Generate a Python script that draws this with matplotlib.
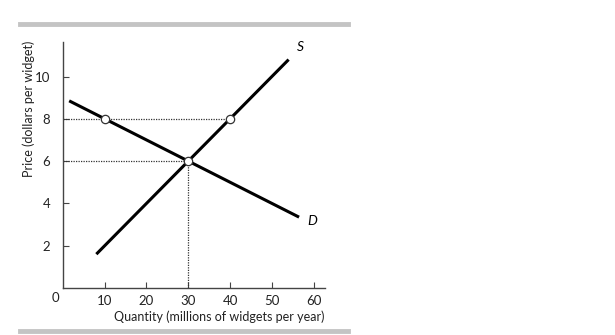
import matplotlib.pyplot as plt
from matplotlib.lines import Line2D

# supply and demand curves (quantity, price)
supply_q = [8, 54]
supply_p = [1.6, 10.8]
demand_q = [1.5, 56.5]
demand_p = [8.85, 3.35]

# highlighted points
points_q = [10, 40, 30]
points_p = [8, 8, 6]

xticks = [10, 20, 30, 40, 50, 60]
yticks = [2, 4, 6, 8, 10]

plt.rcParams['font.family'] = ['Lato', 'DejaVu Sans']

fig = plt.figure(figsize=(6.15, 3.35), dpi=100)
W, H = 615, 335
x0, x1 = 62.9, 325
y0, y1 = 288, 41.7
ax = fig.add_axes([x0 / W, 1 - y0 / H, (x1 - x0) / W, (y0 - y1) / H])

ax.set_xlim(0, (x1 - x0) / 4.18)
ax.set_ylim(0, (y0 - y1) / 21.15)

# dotted guides
ax.plot([0, 40], [8, 8], color='#333333', lw=0.9, ls=(0, (1, 1)))
ax.plot([0, 30], [6, 6], color='#333333', lw=0.9, ls=(0, (1, 1)))
ax.plot([30, 30], [0, 6], color='#333333', lw=0.9, ls=(0, (1, 1)))

ax.plot(supply_q, supply_p, color='black', lw=2.2, solid_capstyle='butt')
ax.plot(demand_q, demand_p, color='black', lw=2.2, solid_capstyle='butt')
ax.plot(points_q, points_p, 'o', ms=6, mfc='white', mec='#333333', mew=0.9)

ax.text(55.9, 11.2, 'S', fontsize=10, style='italic')
ax.text(58.5, 3.0, 'D', fontsize=10, style='italic')

for s in ['top', 'right']:
    ax.spines[s].set_visible(False)
for s in ['left', 'bottom']:
    ax.spines[s].set_color('#444444')
    ax.spines[s].set_linewidth(1.0)

ax.set_xticks(xticks)
ax.set_yticks(yticks)
ax.tick_params(direction='in', length=4, width=0.8, color='#444444',
               labelsize=9.5, labelcolor='#222222', pad=5)
ax.tick_params(axis='y', pad=9)

fig.text(55 / W, 1 - 298 / H, '0', fontsize=9.5, color='#222222',
         ha='center', va='center')
fig.text(29 / W, 1 - 109 / H, 'Price (dollars per widget)', fontsize=9,
         color='#222222', rotation=90, ha='center', va='center')
fig.text(325 / W, 1 - 316.5 / H, 'Quantity (millions of widgets per year)',
         fontsize=9, color='#222222', ha='right', va='center')

# grey rules above and below
for yy in [24, 330.5]:
    fig.add_artist(Line2D([20 / W, 348 / W], [1 - yy / H, 1 - yy / H],
                          color='#c4c4c4', lw=3.5))

fig.savefig('out.png', dpi=100)
